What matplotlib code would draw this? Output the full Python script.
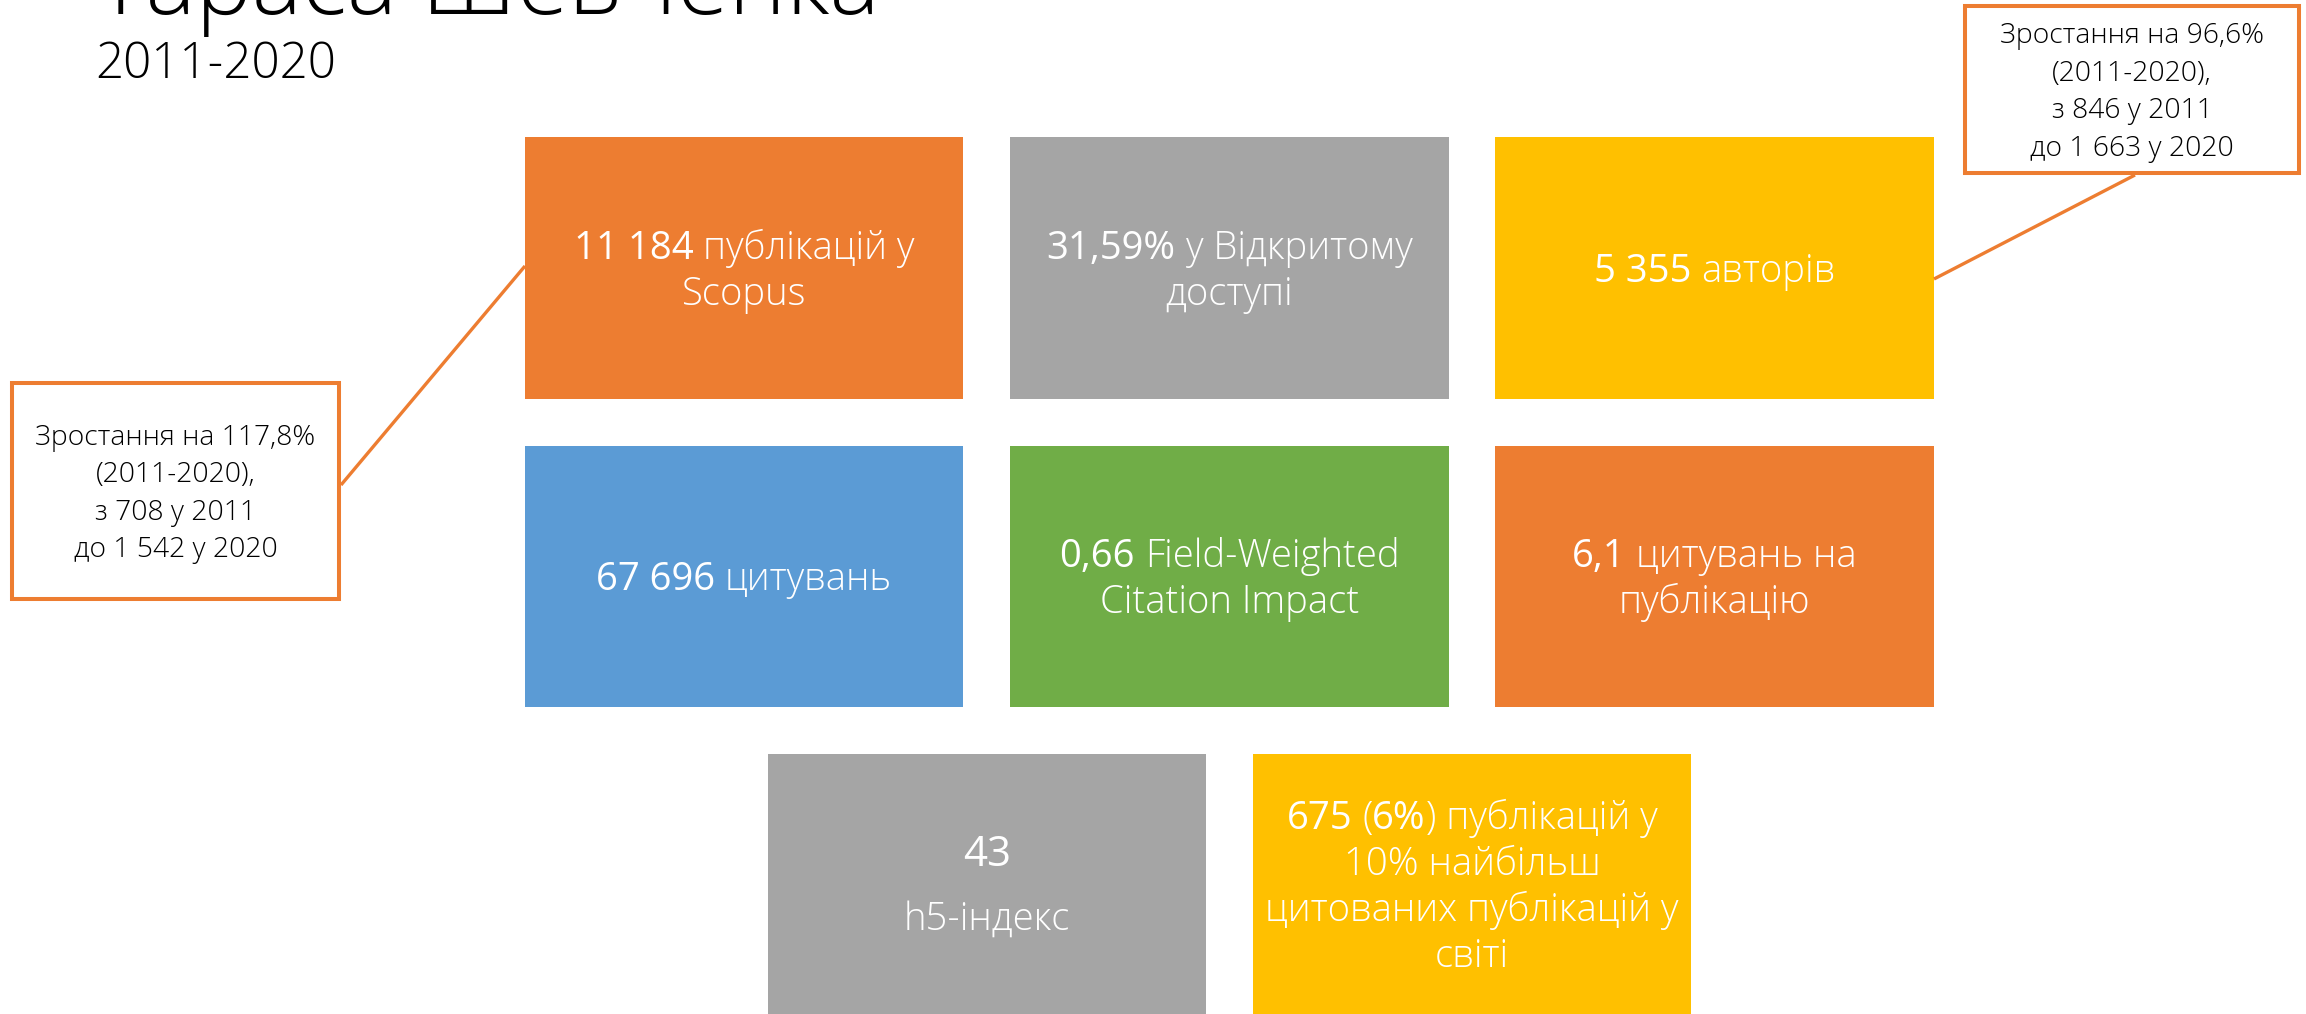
import matplotlib
matplotlib.use("Agg")
import matplotlib.pyplot as plt
from matplotlib.patches import Rectangle
from matplotlib import font_manager as fm

# ------------------------------------------------------------------ data
title = "Тараса Шевченка"
subtitle = "2011-2020"

tile_colors = ["#ED7D31", "#A5A5A5", "#FFC000",
               "#5B9BD5", "#70AD47", "#ED7D31",
               "#A5A5A5", "#FFC000"]
# **...** marks the emphasised (value) part of a line
tile_texts = [
    ["**11 184** публікацій у", "Scopus"],
    ["**31,59%** у Відкритому", "доступі"],
    ["**5 355** авторів"],
    ["**67 696** цитувань"],
    ["**0,66** Field-Weighted", "Citation Impact"],
    ["**6,1** цитувань на", "публікацію"],
    ["**43**", "h5-індекс"],
    ["**675** (**6%**) публікацій у", "10% найбільш",
     "цитованих публікацій у", "світі"],
]
callout_left = ["Зростання на 117,8%", "(2011-2020),", "з 708 у 2011", "до 1 542 у 2020"]
callout_right = ["Зростання на 96,6%", "(2011-2020),", "з 846 у 2011", "до 1 663 у 2020"]

# ------------------------------------------------------------------ layout (pixels, y down)
W, H, DPI = 2306, 1014, 100
tile_rects = [  # x0, y0, x1, y1
    (525, 137, 963, 399), (1010, 137, 1449, 399), (1495, 137, 1934, 399),
    (525, 446, 963, 707), (1010, 446, 1449, 707), (1495, 446, 1934, 707),
    (768, 754, 1206, 1030), (1253, 754, 1691, 1030),
]
tile_centers_y = [268, 268, 268, 576.5, 576.5, 576.5, 884, 884]
callout_left_rect = (12, 383, 339, 599)
callout_right_rect = (1965, 6, 2299, 173)
ORANGE = "#ED7D31"

# ------------------------------------------------------------------ fonts
def _wnum(w):
    if isinstance(w, str):
        return fm.weight_dict.get(w, 400)
    return w

FAM, W_LIGHT, W_BOLD = "DejaVu Sans", "normal", "bold"
for fam in ["Open Sans", "Noto Sans", "Roboto", "DejaVu Sans"]:
    ws = sorted({_wnum(e.weight) for e in fm.fontManager.ttflist if e.name == fam})
    if ws and ws[0] <= 300:
        FAM = fam
        W_LIGHT = 300 if 300 in ws else ws[0]
        W_BOLD = 400 if 400 in ws else "normal"
        break

CAP = 0.714  # cap height / em

fig = plt.figure(figsize=(W / DPI, H / DPI), dpi=DPI)
ax = fig.add_axes([0, 0, 1, 1])
ax.set_xlim(0, W)
ax.set_ylim(H, 0)
ax.axis("off")
renderer = fig.canvas.get_renderer()


def adv(s, weight, size):
    if not s:
        return 0.0
    t1 = ax.text(0, 0, "|" + s + "|", fontsize=size, fontweight=weight, fontfamily=FAM)
    t2 = ax.text(0, 0, "||", fontsize=size, fontweight=weight, fontfamily=FAM)
    w = t1.get_window_extent(renderer).width - t2.get_window_extent(renderer).width
    t1.remove(); t2.remove()
    return w


def parse(line):
    parts = line.split("**")
    return [(p, i % 2 == 1) for i, p in enumerate(parts) if p]


def draw_line(line, cx, baseline, size, color, light=W_LIGHT, bold=W_BOLD):
    segs = parse(line)
    items = []
    for txt, b in segs:
        w = bold if b else light
        lead = len(txt) - len(txt.lstrip(" "))
        trail = len(txt) - len(txt.rstrip(" "))
        items.append((txt.strip(" "), w, lead, trail))
    total = 0.0
    widths = []
    for (s, w, lead, trail) in items:
        sp = adv(" ", w, size)
        a = adv(s, w, size)
        widths.append((a, sp))
        total += a + lead * sp + trail * sp
    x = cx - total / 2
    for (s, w, lead, trail), (a, sp) in zip(items, widths):
        x += lead * sp
        ax.text(x, baseline, s, fontsize=size, fontweight=w, fontfamily=FAM,
                color=color, ha="left", va="baseline")
        x += a + trail * sp


def draw_block(lines, cx, cy, size, pitch, color, sizes=None):
    n = len(lines)
    cap_px = CAP * size * DPI / 72
    for i, line in enumerate(lines):
        s = size if sizes is None else sizes[i]
        b = cy - (n - 1) / 2 * pitch + i * pitch + cap_px / 2
        draw_line(line, cx, b, s, color)


# ------------------------------------------------------------------ title
ax.text(96, 14, title, fontsize=68, fontweight=W_LIGHT, fontfamily=FAM,
        color="#000000", ha="left", va="baseline")
ax.text(95, 78, subtitle, fontsize=35.5, fontweight=W_LIGHT, fontfamily=FAM,
        color="#000000", ha="left", va="baseline")

# ------------------------------------------------------------------ tiles
TILE_FS = 27.5
for i, (rect, col, lines) in enumerate(zip(tile_rects, tile_colors, tile_texts)):
    x0, y0, x1, y1 = rect
    ax.add_patch(Rectangle((x0, y0), x1 - x0, y1 - y0, facecolor=col,
                           edgecolor="none", zorder=1))
    cx = (x0 + x1) / 2
    cy = tile_centers_y[i]
    if i == 6:
        draw_block(lines, cx, cy, TILE_FS, 64, "white", sizes=[TILE_FS * 1.1, TILE_FS])
    else:
        draw_block(lines, cx, cy, TILE_FS, 46, "white")

# ------------------------------------------------------------------ callouts
CALL_FS = 20.3
for rect, lines in [(callout_left_rect, callout_left), (callout_right_rect, callout_right)]:
    x0, y0, x1, y1 = rect
    ax.add_patch(Rectangle((x0, y0), x1 - x0, y1 - y0, facecolor="white",
                           edgecolor=ORANGE, linewidth=2.9, zorder=2))
    draw_block(lines, (x0 + x1) / 2, (y0 + y1) / 2, CALL_FS, 37.5, "#000000")

ax.plot([341, 525], [485, 266], color=ORANGE, linewidth=2.4, zorder=1.5,
        solid_capstyle="butt")
ax.plot([1934, 2135], [279, 175], color=ORANGE, linewidth=2.4, zorder=1.5,
        solid_capstyle="butt")

fig.savefig("out.png", dpi=DPI, facecolor="white")
